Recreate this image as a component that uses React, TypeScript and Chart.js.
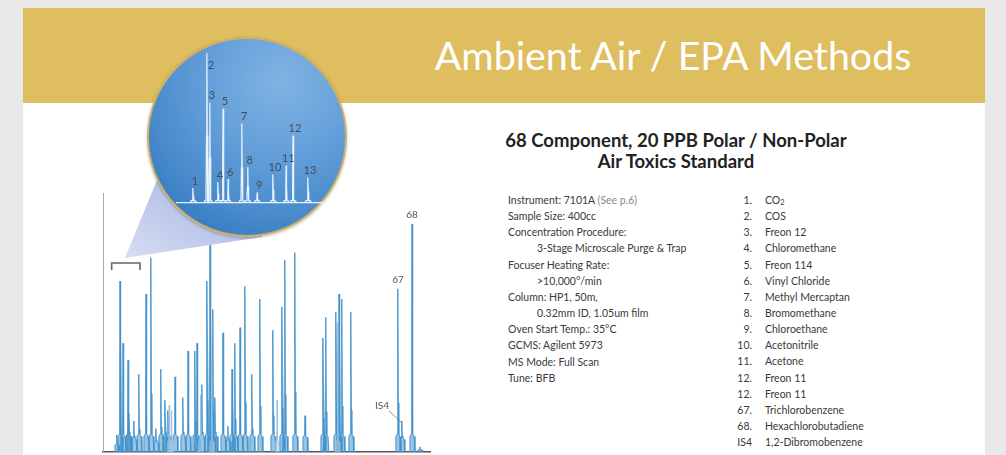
import React, { useEffect, useRef } from "react";
import { Chart, registerables } from "chart.js";

Chart.register(...registerables);

// ---------- DATA ----------
// Main chromatogram: retention time (min) and peak height (% of full scale)
const mainPeakTimes = [
  1.71, 2.08, 2.45, 3.06, 3.18, 3.79, 4.4, 5.26, 5.87, 6.48, 7.09, 7.58, 7.95, 8.81, 9.78,
  10.4, 11.25, 11.5, 12.11, 12.72, 13.09, 13.45, 13.7, 14.68, 15.29, 15.78, 16.14, 16.76,
  17.37, 18.22, 19.2, 20.79, 21.89, 22.26, 23.48, 24.71, 26.91, 27.27, 28.5, 28.87, 29.23,
  30.33, 36.08, 36.57, 37.8, 38.77,
];
const mainPeakHeights = [
  6.6, 66, 42, 35.5, 15, 12, 30, 61, 75, 9, 32, 20, 16, 29, 21,
  39, 39, 42, 26, 66, 81, 55, 21, 46, 10, 32, 42, 48,
  64, 30, 59, 47, 56, 74, 77, 14, 44, 52, 54, 61, 59,
  54, 63, 12, 88, 2,
];
// Lighter co-eluting traces
const ghostPeakTimes = [8.1, 8.4, 11.9, 13.3, 21.3, 28.7];
const ghostPeakHeights = [18, 16, 22, 30, 20, 50];

// Labelled peaks on the main trace
const annotNames = ["67", "68", "IS4"];
const annotTimes = [36.08, 37.8, 36.57];

// Zoomed window (min) shown in the inset
const insetRange = [1.06, 4.52];

// Inset chromatogram
const insetPeakLabels = ["1", "2", "3", "4", "5", "6", "7", "8", "9", "10", "11", "12", "13"];
const insetPeakTimes = [1.575, 1.9, 1.97, 2.16, 2.28, 2.4, 2.72, 2.86, 3.08, 3.45, 3.76, 3.92, 4.27];
const insetPeakHeights = [10, 100, 67, 14, 63, 16, 53, 24, 7, 19, 25, 45, 17];

// Text
const pageTitle = "Ambient Air / EPA Methods";
const chartTitleLines = ["68 Component, 20 PPB Polar / Non-Polar", "Air Toxics Standard"];
const conditionLines = [
  "Instrument: 7101A",
  "Sample Size: 400cc",
  "Concentration Procedure:",
  "3-Stage Microscale Purge & Trap",
  "Focuser Heating Rate:",
  ">10,000°/min",
  "Column: HP1, 50m,",
  "0.32mm ID, 1.05um film",
  "Oven Start Temp.: 35°C",
  "GCMS: Agilent 5973",
  "MS Mode: Full Scan",
  "Tune: BFB",
];
const conditionIndent = [0, 0, 0, 1, 0, 1, 0, 1, 0, 0, 0, 0];
const conditionNote = "(See p.6)";
const compoundNumbers = ["1.", "2.", "3.", "4.", "5.", "6.", "7.", "8.", "9.", "10.", "11.", "12.", "12.", "67.", "68.", "IS4"];
const compoundNames = [
  "CO₂", "COS", "Freon 12", "Chloromethane", "Freon 114", "Vinyl Chloride", "Methyl Mercaptan",
  "Bromomethane", "Chloroethane", "Acetonitrile", "Acetone", "Freon 11", "Freon 11",
  "Trichlorobenzene", "Hexachlorobutadiene", "1,2-Dibromobenzene",
];

// ---------- helpers ----------
type Pt = { x: number; y: number | null };
// peak outline: offsets (fraction of half-width) and shape fractions of the height
const SHAPE_OFF = [-1, -0.7, -0.3, -0.12, 0, 0.12, 0.3, 0.7, 1];
function buildPeaks(times: number[], heights: number[], halfWidth: number, pedestal: number, waist: number): Pt[] {
  const pts: Pt[] = [];
  times.forEach((t, i) => {
    const h = heights[i];
    const p = Math.min(h * 0.4, pedestal);
    const fr = [0, p, p * 1.15, Math.max(p * 1.3, h * waist), h, Math.max(p * 1.3, h * waist), p * 1.15, p, 0];
    SHAPE_OFF.forEach((o, k) => pts.push({ x: t + o * halfWidth, y: fr[k] }));
    pts.push({ x: t + halfWidth, y: null });
  });
  return pts;
}

const FONT = "Lato, 'Open Sans', sans-serif";

const mainLabelPlugin = {
  id: "mainLabels",
  afterDatasetsDraw(chart: any) {
    const { ctx, scales } = chart;
    const xs = scales.x;
    const ys = scales.y;
    ctx.save();
    ctx.font = `10px ${FONT}`;
    ctx.fillStyle = "#555";
    ctx.textAlign = "center";
    ctx.textBaseline = "middle";
    annotNames.forEach((name, i) => {
      const t = annotTimes[i];
      const idx = mainPeakTimes.indexOf(t);
      const h = mainPeakHeights[idx];
      const px = xs.getPixelForValue(t);
      const py = ys.getPixelForValue(h);
      if (name === "IS4") {
        const lx = px - 20;
        const ly = py - 15;
        ctx.fillText(name, lx, ly);
        ctx.strokeStyle = "#777";
        ctx.lineWidth = 0.8;
        ctx.beginPath();
        ctx.moveTo(lx + 7, ly + 5);
        ctx.lineTo(px, py + 2);
        ctx.stroke();
      } else {
        ctx.fillText(name, px, py - 9);
      }
    });
    // bracket marking inset window
    const bx0 = xs.getPixelForValue(insetRange[0]);
    const bx1 = xs.getPixelForValue(insetRange[1]);
    const by = ys.getPixelForValue(73);
    ctx.strokeStyle = "#666";
    ctx.lineWidth = 1.6;
    ctx.beginPath();
    ctx.moveTo(bx0, by + 7);
    ctx.lineTo(bx0, by);
    ctx.lineTo(bx1, by);
    ctx.lineTo(bx1, by + 7);
    ctx.stroke();
    ctx.restore();
  },
};

const insetLabelPlugin = {
  id: "insetLabels",
  afterDatasetsDraw(chart: any) {
    const { ctx, scales, chartArea } = chart;
    ctx.save();
    ctx.font = `11px ${FONT}`;
    ctx.fillStyle = "#434d58";
    ctx.textAlign = "center";
    ctx.textBaseline = "middle";
    insetPeakLabels.forEach((lab, i) => {
      const px = scales.x.getPixelForValue(insetPeakTimes[i]);
      const py = scales.y.getPixelForValue(insetPeakHeights[i]);
      if (py < chartArea.top + 6) {
        ctx.fillText(lab, px + 4, py + 12);
      } else {
        ctx.fillText(lab, px + 2, py - 7);
      }
    });
    ctx.restore();
  },
};

function MainChart() {
  const ref = useRef<HTMLCanvasElement | null>(null);
  useEffect(() => {
    if (!ref.current) return;
    const chart = new Chart(ref.current, {
      type: "line",
      data: {
        datasets: [
          {
            data: buildPeaks(ghostPeakTimes, ghostPeakHeights, 0.25, 4, 0.3) as any,
            borderColor: "rgba(150,192,226,0.9)",
            backgroundColor: "rgba(180,210,235,0.5)",
            fill: "origin",
            borderWidth: 1,
            pointRadius: 0,
            tension: 0,
            spanGaps: false,
          },
          {
            data: buildPeaks(mainPeakTimes, mainPeakHeights, 0.36, 6, 0.3) as any,
            borderColor: "rgba(66,146,203,0.95)",
            backgroundColor: "rgba(70,148,206,0.55)",
            fill: "origin",
            borderWidth: 1,
            pointRadius: 0,
            tension: 0,
            spanGaps: false,
          },
        ],
      },
      options: {
        animation: false,
        responsive: false,
        maintainAspectRatio: false,
        layout: { padding: { left: 2, right: 2, top: 0, bottom: 3 } },
        plugins: { legend: { display: false }, tooltip: { enabled: false } },
        scales: {
          x: {
            type: "linear",
            min: 0,
            max: 40,
            ticks: { display: false },
            grid: { display: false, drawTicks: false },
            border: { display: true, color: "#555", width: 1.5 },
          },
          y: {
            min: 0,
            max: 100,
            ticks: { display: false },
            grid: { display: false, drawTicks: false },
            border: { display: true, color: "#aaa", width: 1 },
          },
        },
      },
      plugins: [mainLabelPlugin],
    });
    return () => chart.destroy();
  }, []);
  return (
    <canvas
      ref={ref}
      width={331}
      height={262}
      style={{ position: "absolute", left: 101, top: 193, width: 331, height: 262, zIndex: 1 }}
    />
  );
}

function InsetChart() {
  const ref = useRef<HTMLCanvasElement | null>(null);
  useEffect(() => {
    if (!ref.current) return;
    const chart = new Chart(ref.current, {
      type: "line",
      data: {
        datasets: [
          {
            data: buildPeaks(insetPeakTimes, insetPeakHeights, 0.07, 1.5, 0.45) as any,
            borderColor: "rgba(240,248,255,0.95)",
            backgroundColor: "rgba(255,255,255,0.22)",
            fill: "origin",
            borderWidth: 1.2,
            pointRadius: 0,
            tension: 0,
            spanGaps: false,
          },
        ],
      },
      options: {
        animation: false,
        responsive: false,
        maintainAspectRatio: false,
        layout: { padding: { left: 4, right: 4, top: 14, bottom: 3 } },
        plugins: { legend: { display: false }, tooltip: { enabled: false } },
        scales: {
          x: {
            type: "linear",
            min: 1.2,
            max: 4.6,
            ticks: { display: false },
            grid: { display: false, drawTicks: false },
            border: { display: true, color: "rgba(235,245,255,0.95)", width: 1.2 },
          },
          y: {
            min: 0,
            max: 100,
            ticks: { display: false },
            grid: { display: false, drawTicks: false },
            border: { display: false },
          },
        },
      },
      plugins: [insetLabelPlugin],
    });
    return () => chart.destroy();
  }, []);
  return (
    <canvas
      ref={ref}
      width={153}
      height={167}
      style={{ position: "absolute", left: 173, top: 39, width: 153, height: 167, zIndex: 4 }}
    />
  );
}

function renderName(name: string) {
  if (name.includes("₂")) {
    const parts = name.split("₂");
    return (
      <>
        {parts[0]}
        <sub style={{ fontSize: "0.7em", verticalAlign: "-0.2em", lineHeight: 0 }}>2</sub>
        {parts[1]}
      </>
    );
  }
  return name;
}

export default function App() {
  const LH = 16.15;
  return (
    <div
      style={{
        position: "absolute",
        left: 0,
        top: 0,
        width: 1006,
        height: 455,
        overflow: "hidden",
        background: "#e9e9e9",
        fontFamily: FONT,
      }}
    >
      {/* gold header */}
      <div style={{ position: "absolute", left: 23, top: 8, width: 962, height: 95, background: "#dfbe5f" }} />
      {/* white panel */}
      <div style={{ position: "absolute", left: 23, top: 103, width: 962, height: 360, background: "#ffffff" }} />
      <div
        style={{
          position: "absolute",
          left: 373,
          width: 600,
          top: 31,
          textAlign: "center",
          color: "#ffffff",
          fontSize: 39.3,
          fontWeight: 400,
          lineHeight: "48px",
          whiteSpace: "nowrap",
        }}
      >
        {pageTitle}
      </div>

      <MainChart />

      {/* funnel from bracket to magnifier */}
      <div
        style={{
          position: "absolute",
          left: 120,
          top: 130,
          width: 150,
          height: 135,
          zIndex: 2,
          clipPath: "polygon(5px 128px, 37px 50px, 128px 8px, 142px 107px)",
          background: "linear-gradient(30deg, #dcdff1 0%, #b6c3e9 45%, #8ea9dc 100%)",
        }}
      />
      {/* magnifier circle */}
      <div
        style={{
          position: "absolute",
          left: 147,
          top: 37,
          width: 200,
          height: 200,
          borderRadius: "50%",
          border: "2px solid #cfae66",
          boxSizing: "border-box",
          zIndex: 3,
          background:
            "radial-gradient(circle at 68% 22%, #80b3e3 0%, #65a0da 35%, #4a8bcc 65%, #2e78bf 90%, #236eb6 100%)",
          boxShadow: "0 1px 3px rgba(0,0,0,0.25)",
        }}
      />
      <InsetChart />

      {/* chart titles */}
      <div
        style={{
          position: "absolute",
          left: 476,
          width: 400,
          top: 130,
          textAlign: "center",
          color: "#222",
          fontSize: 18.5,
          fontWeight: 700,
          lineHeight: "21px",
          whiteSpace: "nowrap",
        }}
      >
        {chartTitleLines.map((l, i) => (
          <div key={i}>{l}</div>
        ))}
      </div>

      {/* conditions */}
      <div
        style={{
          position: "absolute",
          left: 508,
          top: 192,
          color: "#3a3a3a",
          fontSize: 10.5,
          lineHeight: `${LH}px`,
          whiteSpace: "nowrap",
        }}
      >
        {conditionLines.map((l, i) => (
          <div key={i} style={{ paddingLeft: conditionIndent[i] ? 29 : 0 }}>
            {l}
            {i === 0 ? <span style={{ color: "#8a8a8a" }}> {conditionNote}</span> : null}
          </div>
        ))}
      </div>

      {/* compound list */}
      <div
        style={{
          position: "absolute",
          left: 720,
          top: 192,
          color: "#3a3a3a",
          fontSize: 10.5,
          lineHeight: `${LH}px`,
          whiteSpace: "nowrap",
        }}
      >
        {compoundNumbers.map((n, i) => (
          <div key={i} style={{ display: "flex", height: LH }}>
            <span style={{ width: 32, textAlign: "right" }}>{n}</span>
            <span style={{ marginLeft: 13 }}>{renderName(compoundNames[i])}</span>
          </div>
        ))}
      </div>
    </div>
  );
}
